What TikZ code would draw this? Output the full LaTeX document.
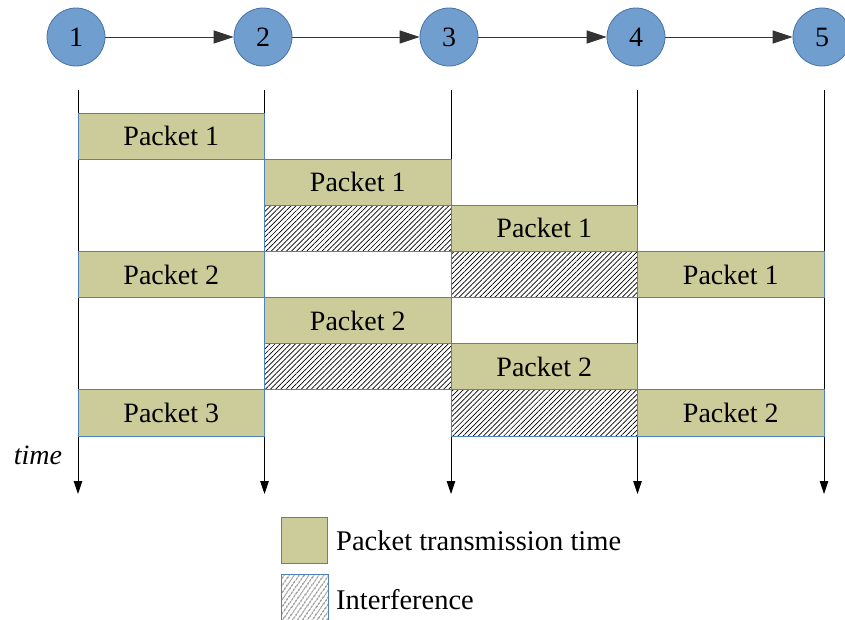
\documentclass[tikz,border=0pt]{standalone}
\usepackage{fontspec}
\setmainfont{Liberation Serif}
\newfontfamily\tnr{Liberation Serif}
\usetikzlibrary{arrows.meta,patterns.meta}
\definecolor{nodefill}{RGB}{112,158,207}
\definecolor{nodeline}{RGB}{72,114,168}
\definecolor{pktfill}{RGB}{204,204,154}
\definecolor{boxline}{RGB}{79,129,189}
\tikzset{
  station/.style={circle,draw=nodeline,fill=nodefill,line width=0.8pt,minimum size=58pt,inner sep=0pt,font=\tnr\fontsize{28}{32}\selectfont},
  hop/.style={draw=black!80,line width=1pt,-{Triangle[length=20pt,width=13pt]}},
  vline/.style={draw=black,line width=0.9pt,-{Triangle[length=13pt,width=8.5pt]}},
  pkt/.style={rectangle,draw=boxline,fill=pktfill,line width=0.9pt,minimum width=186.5pt,minimum height=46.14pt,inner sep=0pt,outer sep=0pt,font=\tnr\fontsize{28}{32}\selectfont},
  intf/.style={rectangle,draw=boxline,line width=0.9pt,pattern={Lines[angle=45,distance=3.6pt,line width=0.7pt]},minimum width=186.5pt,minimum height=46.14pt,inner sep=0pt,outer sep=0pt},
  lbl/.style={font=\tnr\fontsize{28.5}{32}\selectfont,anchor=west,inner sep=0pt}
}
\begin{document}
\begin{tikzpicture}[x=1pt,y=-1pt]
\useasboundingbox (0,0) rectangle (845,619);
% stations
\node[station] (n1) at (76,37) {1};
\node[station] (n2) at (263,37) {2};
\node[station] (n3) at (449,37) {3};
\node[station] (n4) at (636,37) {4};
\node[station] (n5) at (822,37) {5};
\draw[hop] (n1) -- (n2);
\draw[hop] (n2) -- (n3);
\draw[hop] (n3) -- (n4);
\draw[hop] (n4) -- (n5);
% time lines
\foreach \i/\x in {1/78,2/264.5,3/451,4/637.5,5/824}{
  \coordinate (t\i) at (\x,90);
  \coordinate (b\i) at (\x,494);
  \draw[vline] (t\i) -- (b\i);
}
% rows
\node[pkt]  (r1a) at (171.25,136.07) {Packet 1};
\node[pkt]  (r2b) at (357.75,182.21) {Packet 1};
\node[intf] (r3b) at (357.75,228.36) {};
\node[pkt]  (r3c) at (544.25,228.36) {Packet 1};
\node[pkt]  (r4a) at (171.25,274.5) {Packet 2};
\node[intf] (r4c) at (544.25,274.5) {};
\node[pkt]  (r4d) at (730.75,274.5) {Packet 1};
\node[pkt]  (r5b) at (357.75,320.64) {Packet 2};
\node[intf] (r6b) at (357.75,366.79) {};
\node[pkt]  (r6c) at (544.25,366.79) {Packet 2};
\node[pkt]  (r7a) at (171.25,412.93) {Packet 3};
\node[intf] (r7c) at (544.25,412.93) {};
\node[pkt]  (r7d) at (730.75,412.93) {Packet 2};
\node[font=\tnr\fontsize{28}{32}\selectfont\itshape,inner sep=0pt] (time) at (38,455) {time};
% legend
\node[pkt,minimum width=46pt,minimum height=46pt] (lg1) at (304.5,540) {};
\node[lbl] (lt1) at (336,541) {Packet transmission time};
\node[rectangle,draw=boxline,line width=0.9pt,pattern={Lines[angle=55,distance=4pt,line width=0.7pt]},minimum width=47pt,minimum height=48pt,inner sep=0pt] (lg2) at (305,598) {};
\node[lbl] (lt2) at (336,600) {Interference};
\end{tikzpicture}
\end{document}
